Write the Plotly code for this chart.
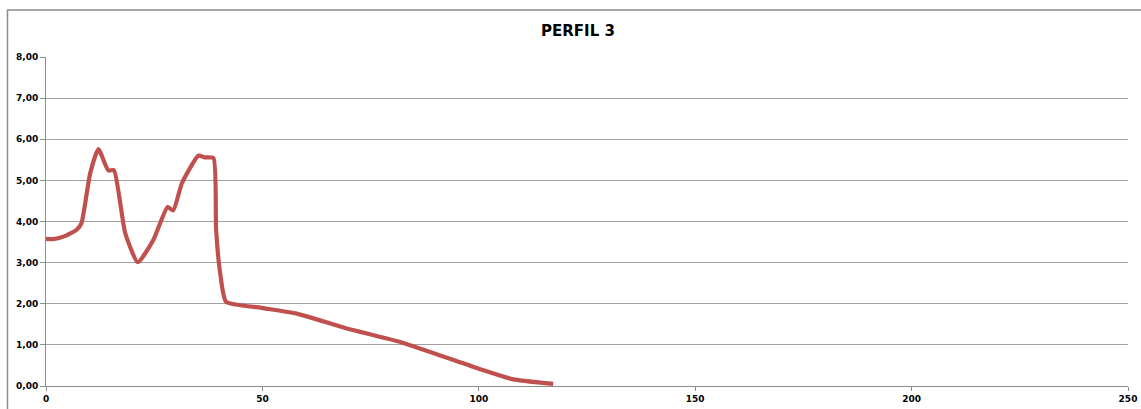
import plotly.graph_objects as go

distance = [0, 1.7, 4.5, 7.1, 8.2, 10.2, 12.1, 14.4, 15.7, 18.3, 21.2, 24.8, 28.1, 29.4,
            31.4, 35.2, 36.7, 38.7, 39.3, 40.3, 41.6, 49.8, 57.9, 69.5, 82.2, 100.3, 108, 117.2]
elevation = [3.58, 3.57, 3.65, 3.80, 3.96, 5.17, 5.76, 5.24, 5.25, 3.72, 3.01, 3.55, 4.35, 4.27,
             4.93, 5.60, 5.56, 5.54, 3.80, 2.70, 2.05, 1.90, 1.76, 1.40, 1.06, 0.41, 0.16, 0.05]

x_ticks = [0, 50, 100, 150, 200, 250]
y_ticks = [0, 1, 2, 3, 4, 5, 6, 7, 8]

fig = go.Figure()
fig.add_trace(go.Scatter(
    x=distance, y=elevation, mode="lines",
    line=dict(color="#C0504D", width=4.2, shape="spline", smoothing=0.5),
    showlegend=False, hoverinfo="x+y",
))

fig.update_layout(
    width=1141, height=409,
    margin=dict(l=46, r=13, t=57, b=23, autoexpand=False),
    paper_bgcolor="white", plot_bgcolor="white",
    title=dict(text="<b>PERFIL 3</b>", x=578 / 1141, xanchor="center", y=1 - 31 / 409, yanchor="middle",
               font=dict(family="DejaVu Sans, Verdana, sans-serif", size=15, color="black")),
    font=dict(family="DejaVu Sans, Tahoma, sans-serif", size=9, color="black"),
    xaxis=dict(range=[0, 250], tickvals=x_ticks, ticktext=[f"<b>{v}</b>" for v in x_ticks],
               showgrid=False, zeroline=False, showline=True, linecolor="#8c8c8c", linewidth=1,
               ticks="outside", ticklen=4, tickcolor="#8c8c8c", automargin=False,
               ticklabeloverflow="allow"),
    yaxis=dict(range=[0, 8], tickvals=y_ticks,
               ticktext=[f"<b>{v:.2f}</b>".replace(".", ",") for v in y_ticks],
               showgrid=True, gridcolor="#a0a0a0", gridwidth=1, zeroline=False,
               showline=True, linecolor="#8c8c8c", linewidth=1,
               ticks="outside", ticklen=5, tickcolor="#8c8c8c", automargin=False,
               ticklabeloverflow="allow"),
    shapes=[dict(type="rect", xref="paper", yref="paper",
                 x0=(7.5 - 46) / 1082, x1=1.2, y0=-0.5, y1=(386 - 10) / 329,
                 line=dict(color="#8c8c8c", width=1.5), fillcolor="rgba(0,0,0,0)", layer="below")],
)

# remove the default 8px page margin so the figure fills the window exactly
fig.write_html("out.html", config={"displayModeBar": False},
               post_script="document.body.style.margin='0';document.body.style.overflow='hidden';")
